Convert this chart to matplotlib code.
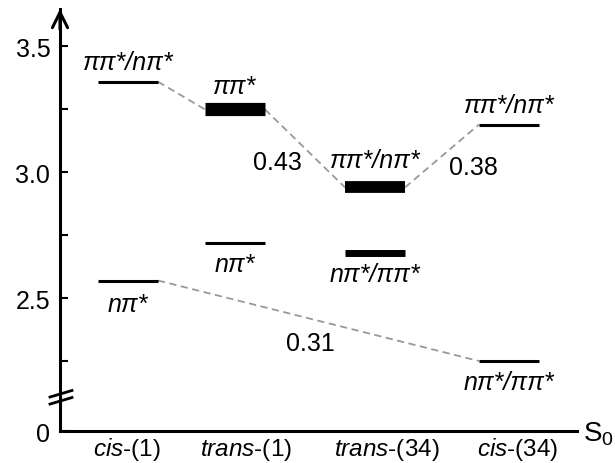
import matplotlib.pyplot as plt

plt.rcParams['font.family'] = ['Liberation Sans', 'DejaVu Sans']
plt.rcParams['mathtext.fontset'] = 'custom'
plt.rcParams['mathtext.rm'] = 'Liberation Sans'
plt.rcParams['mathtext.it'] = 'Liberation Sans:italic'

# states along the x axis
states = [r'$\it{cis}$-(1)', r'$\it{trans}$-(1)', r'$\it{trans}$-(34)', r'$\it{cis}$-(34)']
level_x = [0.68, 1.75, 3.15, 4.49]
label_x = [0.67, 1.86, 3.27, 4.58]

# excited state energies (eV)
upper_levels = [3.36, 3.25, 2.94, 3.19]
lower_levels = [2.57, 2.72, 2.68, 2.25]
upper_names = ['ππ*/nπ*', 'ππ*', 'ππ*/nπ*', 'ππ*/nπ*']
lower_names = ['nπ*', 'nπ*', 'nπ*/ππ*', 'nπ*/ππ*']

# values written along the connectors
gap_labels = ['0.43', '0.38', '0.31']
gap_x = [2.17, 4.13, 2.50]
gap_y = [3.04, 3.02, 2.32]

ymin, ymax = 1.972, 3.649
half = 0.30
upper_lw = [2.2, 9.5, 8.5, 2.2]
lower_lw = [2.2, 2.2, 5.0, 2.2]
upper_off = [9, 12, 15, 9]
lower_off = [-22, -20, -20, -20]
fs = 18

fig = plt.figure(figsize=(6.15, 4.64), dpi=100)
ax = fig.add_axes([60 / 615, 1 - 432 / 464, 517 / 615, 422 / 464])
ax.set_xlim(0, 5.17)
ax.set_ylim(ymin, ymax)

for s in ['top', 'right']:
    ax.spines[s].set_visible(False)
for s in ['left', 'bottom']:
    ax.spines[s].set_linewidth(2.2)

# dashed connectors
dash = dict(color='#999999', lw=1.3, ls=(0, (4, 2.5)), zorder=1)
for i in range(3):
    ax.plot([level_x[i] + half, level_x[i + 1] - half],
            [upper_levels[i], upper_levels[i + 1]], **dash)
ax.plot([level_x[0] + half, level_x[3] - half],
        [lower_levels[0], lower_levels[3]], **dash)

# energy levels
for i in range(4):
    ax.plot([level_x[i] - half, level_x[i] + half], [upper_levels[i]] * 2,
            color='black', lw=upper_lw[i], solid_capstyle='butt', zorder=2)
    ax.plot([level_x[i] - half, level_x[i] + half], [lower_levels[i]] * 2,
            color='black', lw=lower_lw[i], solid_capstyle='butt', zorder=2)
    ax.annotate(upper_names[i], (level_x[i], upper_levels[i]),
                xytext=(0, upper_off[i]), textcoords='offset points',
                ha='center', va='baseline', fontsize=fs, style='italic')
    ax.annotate(lower_names[i], (level_x[i], lower_levels[i]),
                xytext=(0, lower_off[i]), textcoords='offset points',
                ha='center', va='baseline', fontsize=fs, style='italic')

for t, x, y in zip(gap_labels, gap_x, gap_y):
    ax.text(x, y, t, ha='center', va='center', fontsize=fs)

# y axis
ax.set_yticks([ymin, 2.5, 3.0, 3.5])
ax.set_yticklabels(['0', '2.5', '3.0', '3.5'])
ax.set_yticks([2.25, 2.75, 3.25], minor=True)
ax.tick_params(axis='y', which='both', direction='in', length=6, width=1.5,
               labelsize=fs, pad=7)

# x labels
ax.set_xticks([])
for t, x in zip(states, label_x):
    ax.annotate(t, (x, ymin), xytext=(0, -17.5), textcoords='offset points',
                ha='center', va='baseline', fontsize=17.5, annotation_clip=False)

# arrow head on the y axis
ax.annotate('', xy=(0, ymax), xytext=(0, ymax - 0.08),
            arrowprops=dict(arrowstyle='->, head_length=11, head_width=5.5',
                            lw=2.2, mutation_scale=1, shrinkA=0, shrinkB=0),
            annotation_clip=False)

# axis break marks
for y0 in [2.107, 2.079]:
    ax.plot([-0.10, 0.12], [y0, y0 + 0.026], color='black', lw=2.0,
            clip_on=False)

ax.annotate(r'S$_0$', (5.17, ymin), xytext=(4, -7), textcoords='offset points',
            ha='left', va='baseline', fontsize=20, annotation_clip=False)

fig.savefig('out.png', dpi=100)
